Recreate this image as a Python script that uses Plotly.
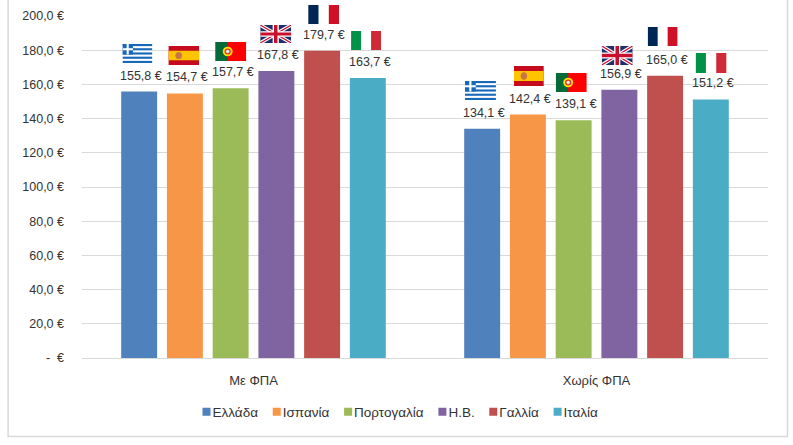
import base64
import plotly.graph_objects as go

W, H = 793, 445
L, R, T, B = 81.5, 768.5, 16, 358  # plot area in pixels

categories = ["Με ΦΠΑ", "Χωρίς ΦΠΑ"]
countries = ["Ελλάδα", "Ισπανία", "Πορτογαλία", "Η.Β.", "Γαλλία", "Ιταλία"]
colors = ["#4F81BD", "#F79646", "#9BBB59", "#8064A2", "#C0504D", "#4BACC6"]
greece = [155.8, 134.1]
spain = [154.7, 142.4]
portugal = [157.7, 139.1]
uk = [167.8, 156.9]
france = [179.7, 165.0]
italy = [163.7, 151.2]
series = [greece, spain, portugal, uk, france, italy]
tick_vals = [0, 20, 40, 60, 80, 100, 120, 140, 160, 180, 200]
tick_text = ["-  €", "20,0 €", "40,0 €", "60,0 €", "80,0 €", "100,0 €", "120,0 €",
             "140,0 €", "160,0 €", "180,0 €", "200,0 €"]

# SVG flags (aspect stretched into their boxes)
def svg(body, w=30, h=19):
    s = f'<svg xmlns="http://www.w3.org/2000/svg" viewBox="0 0 {w} {h}" preserveAspectRatio="none">{body}</svg>'
    return "data:image/svg+xml;base64," + base64.b64encode(s.encode()).decode()

def stripes_gr():
    b = '<rect width="30" height="19" fill="#fff"/>'
    for i in range(0, 9, 2):
        b += f'<rect y="{i*19/9:.2f}" width="30" height="{19/9:.2f}" fill="#1668B8"/>'
    b += '<rect width="10.5" height="10.5" fill="#1668B8"/><rect x="4.2" width="2.1" height="10.5" fill="#fff"/><rect y="4.2" width="10.5" height="2.1" fill="#fff"/>'
    return svg(b)

FLAGS = {
    "gr": stripes_gr(),
    "es": svg('<rect width="30" height="19" fill="#C60B1E"/><rect y="4.75" width="30" height="9.5" fill="#FFC400"/>'
              '<ellipse cx="10" cy="9.5" rx="3.2" ry="3.6" fill="#C8734A"/>'),
    "pt": svg('<rect width="30" height="19" fill="#FF0000"/><rect width="12" height="19" fill="#046A38"/>'
              '<circle cx="12" cy="9.5" r="4.8" fill="#FFE000"/><circle cx="12" cy="9.5" r="3" fill="#D9352B"/><circle cx="12" cy="9.5" r="1.7" fill="#E8E8F0"/>'),
    "uk": svg('<rect width="30" height="19" fill="#1F2F6E"/>'
              '<path d="M0,0L30,19M30,0L0,19" stroke="#fff" stroke-width="3.6"/>'
              '<path d="M0,0L30,19M30,0L0,19" stroke="#C8102E" stroke-width="1.3"/>'
              '<path d="M15,0V19M0,9.5H30" stroke="#fff" stroke-width="6"/>'
              '<path d="M15,0V19M0,9.5H30" stroke="#C8102E" stroke-width="3.4"/>'),
    "fr": svg('<rect width="30" height="19" fill="#fff"/><rect width="10" height="19" fill="#002654"/><rect x="20" width="10" height="19" fill="#CE1126"/>'),
    "it": svg('<rect width="30" height="19" fill="#fff"/><rect width="10" height="19" fill="#009246"/><rect x="20" width="10" height="19" fill="#CE2B37"/>'),
}
flag_order = ["gr", "es", "pt", "uk", "fr", "it"]
flag_boxes = [
    [(122, 44, 152, 63), (168, 46, 199, 65), (215, 42, 246, 61), (260, 25, 291, 43), (308, 5, 339, 24), (351, 31, 381, 50)],
    [(465, 81, 496, 100), (514, 66, 544, 86), (556, 73, 587, 92), (602, 46, 633, 65), (648, 27, 678, 46), (696, 53, 727, 73)],
]

def px(x):
    return (x - L) / (R - L)
def py(y):
    return (B - y) / (B - T)

BARGAP = 0.2
GROUPGAP = 0.214
TEXT = "#333333"
FONT = "Liberation Sans, Arial, sans-serif"

fig = go.Figure()
for name, vals, col in zip(countries, series, colors):
    fig.add_trace(go.Bar(name=name, x=categories, y=vals, marker=dict(color=col, line=dict(width=0))))

step = (1 - BARGAP) / len(countries)
annotations = []
for i, vals in enumerate(series):
    for g, v in enumerate(vals):
        annotations.append(dict(
            x=g + (i - 2.5) * step, y=v, xref="x", yref="y",
            text=f"{v:.1f} €".replace(".", ","), showarrow=False,
            yshift=16, xshift=2, font=dict(size=12.5, color=TEXT, family=FONT),
        ))

images = []
for boxes in flag_boxes:
    for key, (x0, y0, x1, y1) in zip(flag_order, boxes):
        images.append(dict(source=FLAGS[key], xref="paper", yref="paper", x=px(x0), y=py(y0),
                           sizex=px(x1) - px(x0), sizey=py(y0) - py(y1), sizing="stretch",
                           xanchor="left", yanchor="top", layer="above"))

frame = dict(type="rect", xref="paper", yref="paper", x0=px(7.5), x1=px(788), y0=py(436.5), y1=py(-6),
             line=dict(color="#D9D9D9", width=1.5), fillcolor="rgba(0,0,0,0)", layer="below")

fig.update_layout(
    width=W, height=H, autosize=False,
    margin=dict(l=L, r=W - R, t=T, b=H - B, pad=0),
    paper_bgcolor="white", plot_bgcolor="white",
    barmode="group", bargap=BARGAP, bargroupgap=GROUPGAP,
    font=dict(family=FONT, size=12, color=TEXT),
    annotations=annotations, images=images, shapes=[frame],
    legend=dict(orientation="h", x=px(409), xanchor="center", y=py(412), yanchor="middle",
                font=dict(size=13.5, color=TEXT), traceorder="normal", indentation=-15,
                bgcolor="rgba(0,0,0,0)"),
    xaxis=dict(automargin=False, showgrid=False, showline=True, linecolor="#D9D9D9", linewidth=1, ticks="",
               ticklabelstandoff=10, tickfont=dict(size=13, color=TEXT, family=FONT)),
    yaxis=dict(automargin=False, range=[0, 200], tickvals=tick_vals, ticktext=tick_text, showgrid=True,
               gridcolor="#D9D9D9", gridwidth=1, zeroline=False, showline=False, ticks="",
               ticklabelstandoff=17, tickfont=dict(size=12.5, color=TEXT, family=FONT)),
)

# Tighten the native legend: smaller swatches set closer to their labels.
POST = r"""
var gd = document.getElementById('{plot_id}');
document.body.style.margin = '0';
function tuneLegend() {
  var items = gd.querySelectorAll('.legend .traces');
  items.forEach(function (g, i) {
    var m = /translate\(([-\d.]+),\s*([-\d.]+)\)/.exec(g.getAttribute('transform') || '');
    if (m) g.setAttribute('transform', 'translate(' + (parseFloat(m[1]) - i * 5.4) + ',' + m[2] + ')');
    g.querySelectorAll('.legendpoints path').forEach(function (p) {
      var t = /translate\(([-\d.]+),\s*([-\d.]+)\)/.exec(p.getAttribute('transform') || 'translate(20,0)');
      p.setAttribute('d', 'M4,4H-4V-4H4Z');
      p.setAttribute('transform', 'translate(' + (parseFloat(t[1]) + 14) + ',' + t[2] + ')');
    });
  });
}
tuneLegend();
"""
fig.write_html("out.html", post_script=POST, config=dict(displayModeBar=False))
